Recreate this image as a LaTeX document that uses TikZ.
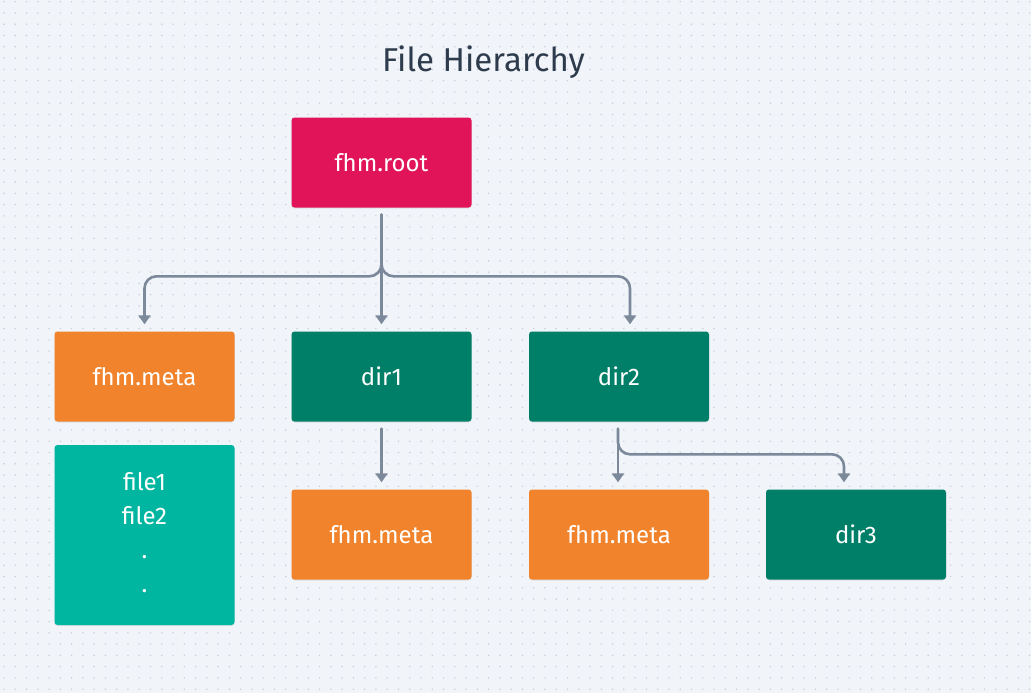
\documentclass[tikz,border=0pt]{standalone}
\usepackage{fontspec}
\setmainfont{Fira Sans}
\usetikzlibrary{arrows.meta}
\definecolor{bgc}{HTML}{F1F4F8}
\definecolor{dotc}{HTML}{C8CCDB}
\definecolor{rootc}{HTML}{E1145A}
\definecolor{metac}{HTML}{F0832B}
\definecolor{dirc}{HTML}{007F68}
\definecolor{filec}{HTML}{00B6A0}
\definecolor{linec}{HTML}{7B899B}
\definecolor{titlec}{HTML}{2D3B4D}
\tikzset{
  boxnode/.style={rectangle, rounded corners=3pt, minimum width=180pt, minimum height=90pt,
    text=white, inner sep=0pt, font=\fontsize{24}{34}\selectfont,
    preaction={fill=black, opacity=0.08, transform canvas={yshift=-1pt}}},
  rootbox/.style={boxnode, fill=rootc},
  metabox/.style={boxnode, fill=metac},
  dirbox/.style={boxnode, fill=dirc},
  filebox/.style={boxnode, fill=filec, minimum height=180pt, align=center},
  conn/.style={draw=linec, line width=2.6pt, line cap=round, -{Triangle[width=12pt,length=9pt]}},
}
\begin{document}
\begin{tikzpicture}[x=1pt,y=-1pt]
\useasboundingbox (0,0) rectangle (1031,693);
\fill[bgc] (0,0) rectangle (1031,693);
\foreach \i in {0,...,91} {
  \foreach \j in {0,...,61} {
    \fill[dotc] ({4+\i*11.27},{1.7+\j*11.27}) circle (0.8pt);
  }
}
\node[text=titlec, font=\fontsize{33}{38}\selectfont] (title) at (483.5,62) {File Hierarchy};

\node[rootbox] (root) at (381.5,162.5) {fhm.root};
\node[metabox] (meta0) at (144.5,376.5) {fhm.meta};
\node[dirbox] (dir1) at (381.5,376.5) {dir1};
\node[dirbox] (dir2) at (619,376.5) {dir2};
\node[filebox] (files) at (144.5,535) {\strut file1\\\strut file2\\\strut .\\\strut .};
\node[metabox] (meta1) at (381.5,534.5) {fhm.meta};
\node[metabox] (meta2) at (619,534.5) {fhm.meta};
\node[dirbox] (dir3) at (856,534.5) {dir3};

% root branches
\draw[conn] ([yshift=-7pt]root.south) -- ([yshift=7pt]dir1.north);
\draw[conn, rounded corners=12pt] ([yshift=-7pt]root.south) |- ([yshift=55pt]meta0.north) -- ([yshift=7pt]meta0.north);
\draw[conn, rounded corners=12pt] ([yshift=-7pt]root.south) |- ([xshift=11pt,yshift=55pt]dir2.north) -- ([xshift=11pt,yshift=7pt]dir2.north);

% dir1
\draw[conn] ([yshift=-7pt]dir1.south) -- ([yshift=7pt]meta1.north);

% dir2
\draw[conn] ([xshift=-1pt,yshift=-7pt]dir2.south) -- ([xshift=-1pt,yshift=7pt]meta2.north);
\draw[conn, rounded corners=12pt] ([xshift=-1pt,yshift=-7pt]dir2.south) |- ([xshift=-12pt,yshift=35pt]dir3.north) -- ([xshift=-12pt,yshift=7pt]dir3.north);
\end{tikzpicture}
\end{document}
